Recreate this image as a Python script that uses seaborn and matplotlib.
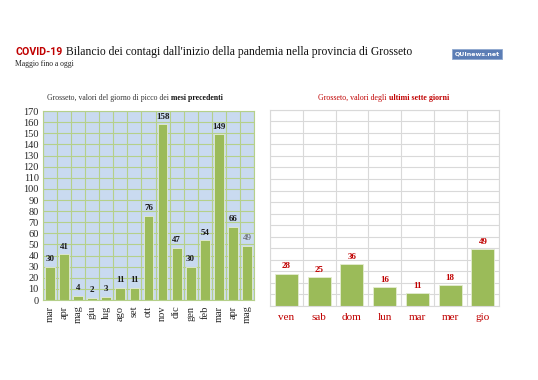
import numpy as np
import pandas as pd
import matplotlib.pyplot as plt
import seaborn as sns

# mesi precedenti (valore del giorno di picco)
months = ["mar", "apr", "mag", "giu", "lug", "ago", "set", "ott",
          "nov", "dic", "gen", "feb", "mar", "apr", "mag"]
peak_values = [30, 41, 4, 2, 3, 11, 11, 76, 158, 47, 30, 54, 149, 66, 49]

# ultimi sette giorni
days = ["ven", "sab", "dom", "lun", "mar", "mer", "gio"]
day_values = [28, 25, 36, 16, 11, 18, 49]

BAR = "#9bbb59"
DARKRED = "#c00000"
SERIF = "Liberation Serif"

sns.set_style("white")
plt.rcParams["font.family"] = [SERIF, "DejaVu Sans"]

fig = plt.figure(figsize=(5.38, 3.8), dpi=100)
fig.patch.set_facecolor("white")


def grid_setup(ax, n, grid_color, face):
    ax.set_facecolor(face)
    ax.set_ylim(0, 170)
    ax.set_xlim(-0.5, n - 0.5)
    ax.set_yticks(np.arange(0, 171, 10))
    ax.set_xticks(np.arange(-0.5, n, 1.0), minor=True)
    ax.grid(True, axis="y", which="major", color=grid_color, lw=0.8)
    ax.grid(True, axis="x", which="minor", color=grid_color, lw=0.8)
    ax.grid(False, axis="x", which="major")
    ax.set_axisbelow(True)
    for s in ax.spines.values():
        s.set_color(grid_color)
        s.set_linewidth(0.8)
    ax.tick_params(which="both", length=0)
    ax.set_xlabel("")
    ax.set_ylabel("")


# ---- left chart ----
df_left = pd.DataFrame({"pos": range(len(months)), "val": peak_values})
ax1 = fig.add_axes([0.080, 0.2105, 0.392, 0.497])
sns.barplot(data=df_left, x="pos", y="val", color=BAR, width=0.7,
            saturation=1, edgecolor="#e4ecd2", linewidth=0.6, ax=ax1)
grid_setup(ax1, len(months), "#b5d08a", "#c9daf0")
ax1.set_xticks(range(len(months)))
ax1.set_xticklabels(months, rotation=90, fontsize=7.5)
ax1.tick_params(axis="y", labelsize=7.5, pad=3)
ax1.tick_params(axis="x", pad=4)
for i, v in enumerate(peak_values):
    last = i == len(peak_values) - 1
    ax1.text(i, v + 3, str(v), ha="center", va="bottom", fontsize=6.5,
             fontweight="normal" if last else "bold",
             color="#555555" if last else "#1a1a1a")

# ---- right chart ----
df_right = pd.DataFrame({"day": days, "val": day_values})
ax2 = fig.add_axes([0.502, 0.195, 0.426, 0.516])
sns.barplot(data=df_right, x="day", y="val", color=BAR, width=0.7,
            saturation=1, edgecolor="#e4ecd2", linewidth=0.6, ax=ax2)
grid_setup(ax2, len(days), "#d9d9d9", "white")
ax2.set_yticklabels([])
ax2.set_xticks(range(len(days)))
ax2.set_xticklabels(days, fontsize=8, color=DARKRED)
ax2.tick_params(axis="x", pad=5)
for i, v in enumerate(day_values):
    ax2.text(i, v + 3, str(v), ha="center", va="bottom", fontsize=6.5,
             fontweight="bold", color=DARKRED)

# ---- titles ----
fig.text(15 / 538, 1 - 52 / 380, "COVID-19", fontsize=7.6, fontweight="bold",
         color=DARKRED, family=["Roboto", "DejaVu Sans"], va="center")
fig.text(66 / 538, 1 - 52 / 380,
         "Bilancio dei contagi dall'inizio della pandemia nella provincia di Grosseto",
         fontsize=8.4, color="#111111", va="center")
fig.text(15 / 538, 1 - 64 / 380, "Maggio fino a oggi", fontsize=5.5,
         color="#222222", va="center")

fig.text(171 / 538, 1 - 98 / 380, "Grosseto, valori del giorno di picco dei ",
         fontsize=5.6, color="#333333", ha="right", va="center")
fig.text(171 / 538, 1 - 98 / 380, "mesi precedenti", fontsize=5.6,
         fontweight="bold", color="#111111", ha="left", va="center")
fig.text(389 / 538, 1 - 98 / 380, "Grosseto, valori degli ", fontsize=5.7,
         color=DARKRED, ha="right", va="center")
fig.text(389 / 538, 1 - 98 / 380, "ultimi sette giorni", fontsize=5.7,
         fontweight="bold", color=DARKRED, ha="left", va="center")

# logo
fig.text(477 / 538, 1 - 54 / 380, "QUInews.net", fontsize=4.5, fontweight="bold",
         color="white", ha="center", va="center",
         family=["DejaVu Sans"],
         bbox=dict(boxstyle="square,pad=0.35", fc="#5b7db5", ec="#8fa8cf", lw=0.6))

fig.savefig("out.png", dpi=100, facecolor="white")
